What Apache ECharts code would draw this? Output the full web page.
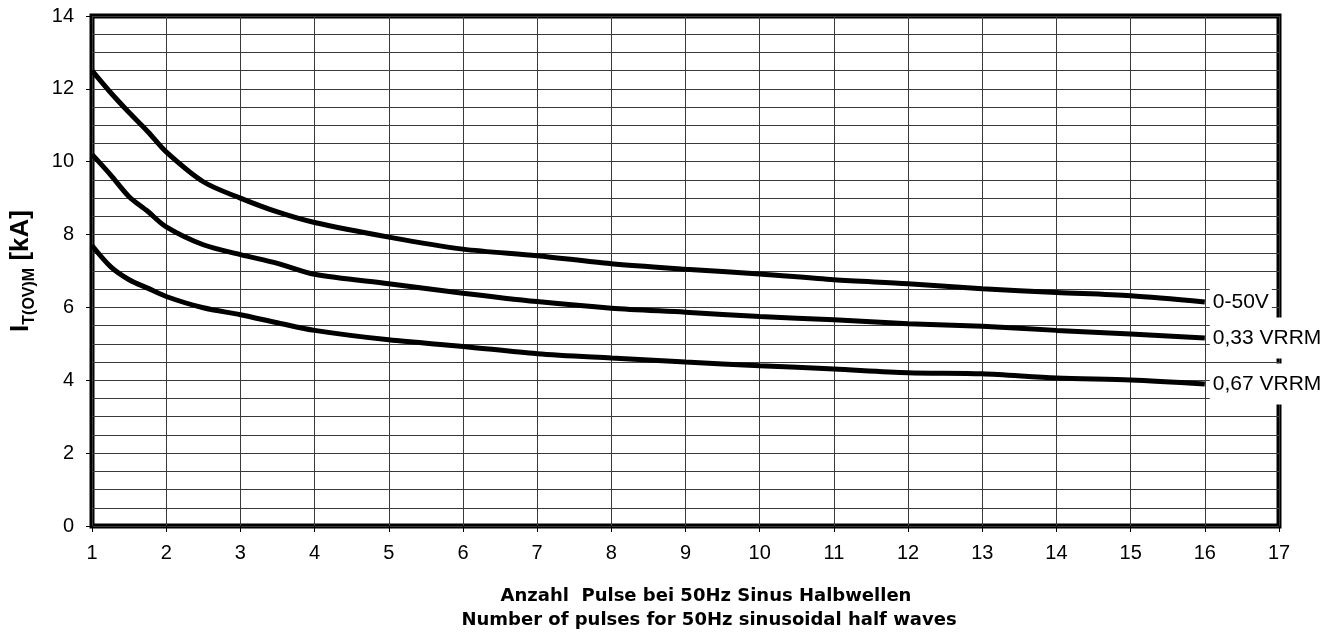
<!DOCTYPE html>
<html>
<head>
<meta charset="utf-8">
<script src="https://cdn.jsdelivr.net/npm/echarts@6/dist/echarts.min.js"></script>
<style>
html,body{margin:0;padding:0;background:#fff;}
#chart{width:1342px;height:639px;}
</style>
</head>
<body>
<div id="chart"></div>
<script>
const pulses = [1, 1.25, 1.5, 1.75, 2, 2.5, 3, 3.5, 4, 5, 6, 7, 8, 9, 10, 11, 12, 13, 14, 15, 16];
const curve050V = [12.5, 11.9, 11.35, 10.83, 10.27, 9.45, 9.0, 8.62, 8.33, 7.93, 7.6, 7.42, 7.2, 7.05, 6.92, 6.76, 6.65, 6.51, 6.41, 6.32, 6.15];
const curve033 = [10.2, 9.64, 9.04, 8.64, 8.21, 7.72, 7.45, 7.21, 6.91, 6.65, 6.39, 6.16, 5.98, 5.87, 5.75, 5.66, 5.55, 5.48, 5.37, 5.27, 5.16];
const curve067 = [7.7, 7.12, 6.76, 6.53, 6.3, 5.99, 5.8, 5.58, 5.37, 5.11, 4.93, 4.73, 4.61, 4.5, 4.4, 4.31, 4.21, 4.18, 4.06, 4.01, 3.9];
const seriesNames = ['0-50V', '0,33 VRRM', '0,67 VRRM'];
const xTitle1 = 'Anzahl  Pulse bei 50Hz Sinus Halbwellen';
const xTitle2 = 'Number of pulses for 50Hz sinusoidal half waves';

const font = '"Liberation Sans", Arial, sans-serif';
const titleFont = '"DejaVu Sans", sans-serif';
const gridColor = '#3a3a3a';

function mk(name, vals) {
  return {
    name: name,
    type: 'line',
    data: pulses.map((x, i) => [x, vals[i]]),
    showSymbol: false,
    smooth: 0.3,
    lineStyle: { color: '#000', width: 5 },
    z: 5,
    endLabel: {
      show: true,
      formatter: name,
      color: '#000',
      fontFamily: font,
      fontSize: 21,
      backgroundColor: '#fff',
      padding: [10, 3, 10, 3],
      distance: 5
    }
  };
}

const chart = echarts.init(document.getElementById('chart'));
chart.setOption({
  animation: false,
  backgroundColor: '#fff',
  grid: { left: 92, right: 63, top: 16, bottom: 113, show: true, borderColor: '#000', borderWidth: 5, backgroundColor: 'transparent', outerBoundsMode: 'none', containLabel: false },
  xAxis: {
    type: 'value', min: 1, max: 17, interval: 1,
    axisLine: { show: false },
    axisTick: { show: true, length: 6, lineStyle: { color: '#000', width: 1 } },
    axisLabel: { color: '#000', fontFamily: font, fontSize: 20, margin: 17 },
    splitLine: { show: true, lineStyle: { color: gridColor, width: 1 } }
  },
  yAxis: {
    type: 'value', min: 0, max: 14, interval: 2,
    axisLine: { show: false },
    axisTick: { show: true, length: 6, lineStyle: { color: '#000', width: 1 } },
    axisLabel: { color: '#000', fontFamily: font, fontSize: 20, margin: 18 },
    splitLine: { show: true, lineStyle: { color: gridColor, width: 1 } },
    minorTick: { show: false, splitNumber: 4 },
    minorSplitLine: { show: true, lineStyle: { color: gridColor, width: 1 } },
    name: '{a|I}{b|T(OV)M}{a| [kA]}',
    nameLocation: 'middle',
    nameRotate: 90,
    nameGap: 58,
    nameTextStyle: {
      rich: {
        a: { fontFamily: font, fontSize: 26, fontWeight: 'bold', color: '#000', verticalAlign: 'bottom', lineHeight: 28 },
        b: { fontFamily: font, fontSize: 16, fontWeight: 'bold', color: '#000', verticalAlign: 'bottom', lineHeight: 16, padding: [0, 0, -4, 0] }
      }
    }
  },
  graphic: [
    { type: 'text', id: 't1', x: 706, y: 587, style: { text: xTitle1, fill: '#000', font: 'bold 18px ' + titleFont, textAlign: 'center', textVerticalAlign: 'top' } },
    { type: 'text', id: 't2', x: 709, y: 611, style: { text: xTitle2, fill: '#000', font: 'bold 18px ' + titleFont, textAlign: 'center', textVerticalAlign: 'top' } }
  ],
  series: [mk(seriesNames[0], curve050V), mk(seriesNames[1], curve033), mk(seriesNames[2], curve067)]
});
</script>
</body>
</html>
